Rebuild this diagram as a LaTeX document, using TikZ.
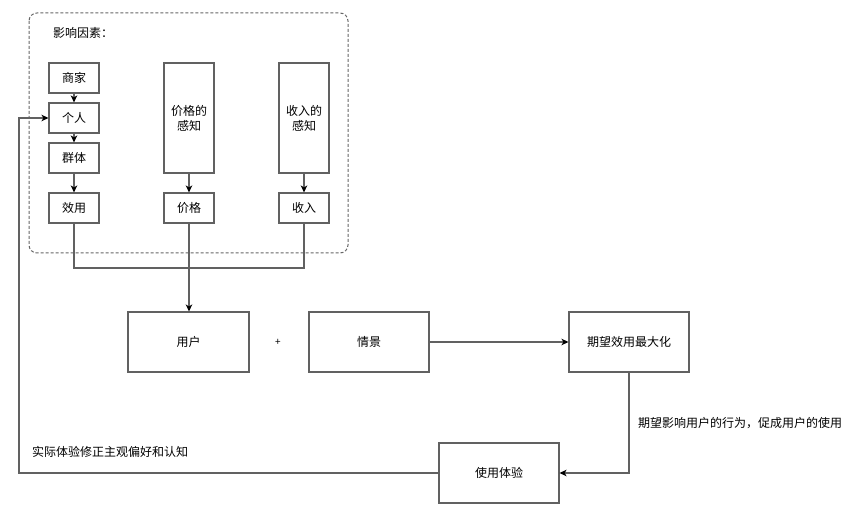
\documentclass[tikz,border=0pt]{standalone}
\usepackage{fontspec}
\setmainfont{Noto Sans CJK SC}
\usetikzlibrary{arrows.meta}
\tikzset{
  box/.style={draw=black!62, line width=1.1pt, inner sep=0pt, align=center, font=\fontsize{12}{15}\selectfont, text=black},
  conn/.style={draw=black!62, line width=1.1pt},
  arr/.style={conn, -{Stealth[length=7pt,width=6.5pt,inset=2pt,color=black]}},
  lbl/.style={inner sep=0pt, font=\fontsize{12}{14}\selectfont, text=black, anchor=west},
  group/.style={draw=black!60, line width=1pt, dash pattern=on 3pt off 2pt, rounded corners=8pt}
}
\begin{document}
\begin{tikzpicture}[x=1pt,y=-1pt]
\useasboundingbox (0,0) rectangle (851,510);
\draw[group] (29,13) rectangle (348,253);
\node[lbl] (title) at (53,33) {影响因素：};
% left column
\node[box, minimum width=50pt, minimum height=30pt] (shang) at (74,78) {商家};
\node[box, minimum width=50pt, minimum height=30pt] (geren) at (74,118) {个人};
\node[box, minimum width=50pt, minimum height=30pt] (qunti) at (74,158) {群体};
\node[box, minimum width=50pt, minimum height=30pt] (xiaoyong) at (74,208) {效用};
% middle column
\node[box, minimum width=50pt, minimum height=110pt] (jgganzhi) at (189,118) {价格的\\感知};
\node[box, minimum width=50pt, minimum height=30pt] (jiage) at (189,208) {价格};
% right column
\node[box, minimum width=50pt, minimum height=110pt] (srganzhi) at (304,118) {收入的\\感知};
\node[box, minimum width=50pt, minimum height=30pt] (shouru) at (304,208) {收入};
% lower row
\node[box, minimum width=121pt, minimum height=60pt] (yonghu) at (188.5,342) {用户};
\node[inner sep=0pt, font=\fontsize{10}{10}\selectfont] (plus) at (278,342) {+};
\node[box, minimum width=120pt, minimum height=60pt] (qingjing) at (369,342) {情景};
\node[box, minimum width=120pt, minimum height=60pt] (qiwang) at (629,342) {期望效用最大化};
\node[box, minimum width=120pt, minimum height=60pt] (shiyong) at (499,473) {使用体验};
% labels
\node[lbl] (lab1) at (638,423) {期望影响用户的行为，促成用户的使用};
\node[lbl] (lab2) at (32,452) {实际体验修正主观偏好和认知};
% coordinates
\coordinate (merge) at (189,268);
\coordinate (loopx) at (19,300);
% connectors
\draw[arr] (shang) -- (geren);
\draw[arr] (geren) -- (qunti);
\draw[arr] (qunti) -- (xiaoyong);
\draw[arr] (jgganzhi) -- (jiage);
\draw[arr] (srganzhi) -- (shouru);
\draw[conn] (xiaoyong.south) |- (merge);
\draw[conn] (shouru.south) |- (merge);
\draw[arr] (jiage.south) -- (jiage.south |- yonghu.north);
\draw[arr] (qingjing) -- (qiwang);
\draw[arr] (qiwang.south) |- (shiyong.east);
\draw[arr] (shiyong.west) -| (loopx) |- (geren.west);
\end{tikzpicture}
\end{document}
